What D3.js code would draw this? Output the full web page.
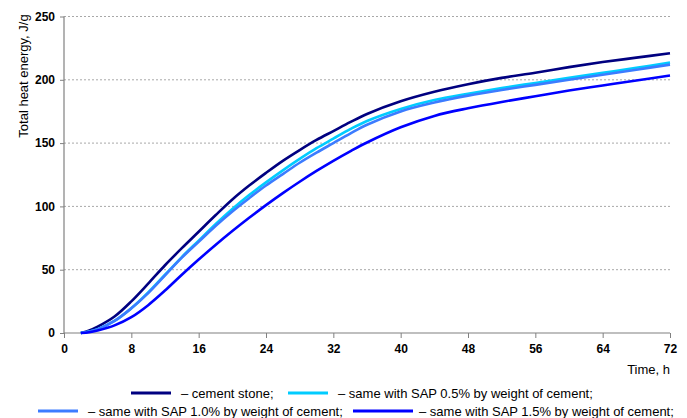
<!DOCTYPE html>
<html>
<head>
<meta charset="utf-8">
<script src="https://cdn.jsdelivr.net/npm/d3@7"></script>
<style>
  body { margin: 0; background: #fff; }
  svg { display: block; font-family: Arial, "Liberation Sans", sans-serif; }
</style>
</head>
<body>
<div class="graph"></div>
<script>
// hours and heat (J/g)
var hours = [2, 3, 4, 6, 8, 10, 12, 14, 16, 18, 20, 22, 24, 26, 28, 30, 32, 34, 36, 40, 44, 48, 52, 56, 60, 64, 68, 72];
var cementStone = [0, 2, 5, 13, 25, 39, 53.5, 67, 80, 93, 105.5, 116.5, 126.5, 136, 144.5, 152.5, 159.5, 166.5, 173, 183, 190.5, 196.5, 201.5, 205.5, 210, 214, 217.5, 221];
var sap05 = [0, 1.2, 3, 9.5, 19.5, 32, 46, 60, 73, 86, 98, 109, 119, 128.5, 137.5, 146, 153.5, 161, 167.5, 177, 184, 189, 193.5, 197.5, 201.5, 205.5, 209.5, 213.6];
var sap10 = [0, 1.2, 3, 9.5, 19.5, 31.5, 45.5, 59.5, 72, 84.5, 96, 106.5, 116.5, 125.5, 134.5, 142.5, 150, 157.5, 164.5, 175, 182, 187.5, 192, 196, 200, 204, 208, 212];
var sap15 = [0, 0.6, 2, 6, 12.5, 22, 33.5, 46, 58, 69.5, 80.5, 91, 101, 110.5, 119.5, 128, 136, 143.5, 150.5, 162.5, 171.5, 177.5, 182.5, 187, 191.5, 195.5, 199.5, 203.4];

var seriesNames = ["– cement stone;", "– same with SAP 0.5% by weight of cement;", "– same with SAP 1.0% by weight of cement;", "– same with SAP 1.5% by weight of cement;"];
var seriesColors = ["#000080", "#00ccff", "#3c7cff", "#0000ff"];
var xTicks = [0, 8, 16, 24, 32, 40, 48, 56, 64, 72];
var yTicks = [0, 50, 100, 150, 200, 250];

var series = [cementStone, sap05, sap10, sap15];

var width = 687, height = 418;
var margin = { top: 16.5, right: 17, bottom: 85, left: 64 };

var svg = d3.select(".graph").append("svg")
    .attr("width", width)
    .attr("height", height);

var x = d3.scaleLinear()
    .domain([0, 72])
    .range([margin.left, width - margin.right]);

var y = d3.scaleLinear()
    .domain([0, 250])
    .range([height - margin.bottom, margin.top]);

//gridlines
svg.append("g")
    .selectAll("line")
    .data(yTicks.filter(function (d) { return d > 0; }))
    .enter().append("line")
    .attr("x1", x(0))
    .attr("x2", x(72))
    .attr("y1", function (d) { return y(d); })
    .attr("y2", function (d) { return y(d); })
    .attr("stroke", "#a8a8a8")
    .attr("stroke-width", 1)
    .attr("stroke-dasharray", "2,2");

//===============axis==============
var xAxisCall = d3.axisBottom(x).tickValues(xTicks).tickSize(5).tickPadding(6);
var xg = svg.append("g")
    .attr("transform", "translate(0," + y(0) + ")")
    .call(xAxisCall);

var yAxisCall = d3.axisLeft(y).tickValues(yTicks).tickSize(4).tickPadding(5);
var yg = svg.append("g")
    .attr("transform", "translate(" + x(0) + ",0)")
    .call(yAxisCall);

[xg, yg].forEach(function (g) {
    g.select(".domain").attr("stroke", "#808080").attr("stroke-width", 1.2);
    g.selectAll(".tick line").attr("stroke", "#808080");
    g.selectAll("text")
        .attr("fill", "#000")
        .style("font-size", "12px")
        .style("font-weight", "bold")
        .style("font-family", "Arial, 'Liberation Sans', sans-serif");
});
xg.select(".domain").attr("d", "M" + x(0) + ",0H" + x(72));
yg.select(".domain").attr("d", "M0," + y(250) + "V" + y(0));

// axis titles
svg.append("text")
    .attr("transform", "translate(23," + 76 + ") rotate(-90)")
    .attr("text-anchor", "middle")
    .attr("dominant-baseline", "central")
    .style("font-size", "13px")
    .text("Total heat energy,  J/g");

svg.append("text")
    .attr("x", 670)
    .attr("y", 374)
    .attr("text-anchor", "end")
    .style("font-size", "13px")
    .text("Time, h");

// lines
var line = d3.line()
    .x(function (d, i) { return x(hours[i]); })
    .y(function (d) { return y(d); })
    .curve(d3.curveCatmullRom.alpha(0.5));

svg.append("g")
    .selectAll("path")
    .data(series)
    .enter().append("path")
    .attr("d", function (d) { return line(d); })
    .attr("fill", "none")
    .attr("stroke", function (d, i) { return seriesColors[i]; })
    .attr("stroke-width", 2.6)
    .attr("stroke-linejoin", "round");

// legend
var legendPos = [
    { x: 131, y: 393 },
    { x: 288, y: 393 },
    { x: 38, y: 411 },
    { x: 373, y: 411 }
];

var legend = svg.append("g")
    .selectAll("g")
    .data(seriesNames)
    .enter().append("g")
    .attr("transform", function (d, i) { return "translate(" + legendPos[i].x + "," + legendPos[i].y + ")"; });

legend.append("line")
    .attr("x1", function (d, i) { return i === 3 ? -20 : 0; })
    .attr("x2", 40)
    .attr("y1", 0)
    .attr("y2", 0)
    .attr("stroke", function (d, i) { return seriesColors[i]; })
    .attr("stroke-width", 3);

legend.append("text")
    .attr("x", function (d, i) { return i === 3 ? 46 : 50; })
    .attr("y", 0)
    .attr("dy", "0.35em")
    .style("font-size", "13px")
    .text(function (d) { return d; });
</script>
</body>
</html>
